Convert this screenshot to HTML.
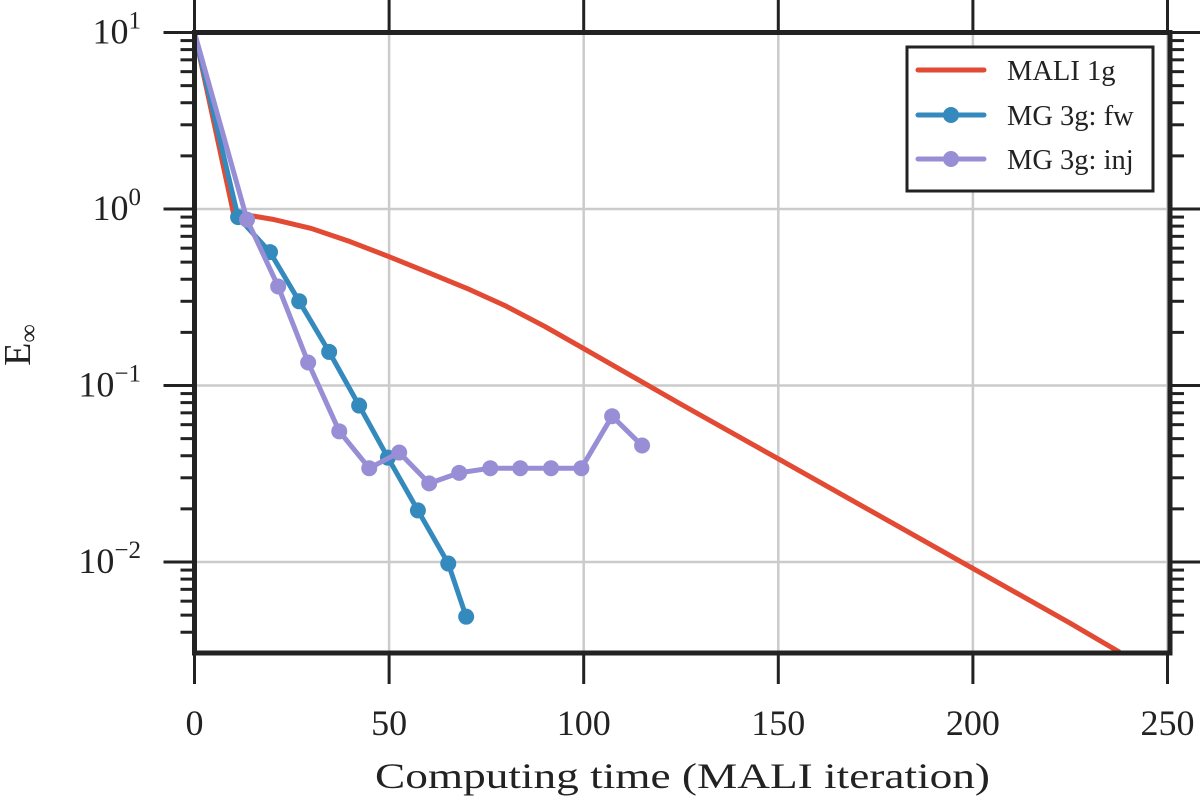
<!DOCTYPE html>
<html><head><meta charset="utf-8"><style>
html,body{margin:0;padding:0;background:#fff;}
svg{display:block;font-family:"Liberation Serif",serif;}
</style></head><body>
<svg id="chart" width="1200" height="812" viewBox="0 0 1200 812">
<g id="grid"></g>
<g id="series"></g>
<g id="axes"></g>
<g id="legend">
 <rect x="907" y="47" width="246" height="144" fill="#fff" stroke="#222" stroke-width="3"/>
 <g>
  <line x1="918" y1="70" x2="984" y2="70" stroke="#E24A33" stroke-width="5" stroke-linecap="round"/>
  <text x="1007" y="80" font-size="28.5" fill="#222">MALI 1g</text>
 </g>
 <g>
  <line x1="918" y1="115" x2="984" y2="115" stroke="#348ABD" stroke-width="5" stroke-linecap="round"/>
  <circle cx="951" cy="115" r="8" fill="#348ABD"/>
  <text x="1007" y="125" font-size="28.5" fill="#222">MG 3g: fw</text>
 </g>
 <g>
  <line x1="918" y1="159" x2="984" y2="159" stroke="#988ED5" stroke-width="5" stroke-linecap="round"/>
  <circle cx="951" cy="159" r="8" fill="#988ED5"/>
  <text x="1007" y="169" font-size="28.5" fill="#222">MG 3g: inj</text>
 </g>
</g>
</svg>
<script>
const maliX=[0,10,14,20,30,40,50,60,70,80,90,100,125,150,175,200,225,237.5];
const maliY=[10,0.95,0.92,0.875,0.776,0.653,0.537,0.437,0.355,0.282,0.216,0.162,0.0783,0.0384,0.0188,0.0092,0.0045,0.0031];
const fwX=[0,11.2,19.4,26.9,34.6,42.3,49.7,57.4,65.2,69.8];
const fwY=[10,0.90,0.57,0.30,0.155,0.077,0.039,0.0196,0.0098,0.0049];
const injX=[0,13.5,21.5,29.2,37.2,44.9,52.6,60.3,68.0,76,83.7,91.6,99.4,107.3,115];
const injY=[10,0.87,0.364,0.135,0.055,0.034,0.0417,0.0279,0.032,0.034,0.034,0.034,0.034,0.067,0.0457];
const xTicks=[0,50,100,150,200,250];
const yTicks=[1,0,-1,-2];

const X0=194.5,X1=1167.5,XMAX=250;
const YTOP=32.5,YBOT=653,DEC=176.5,YTOPEXP=1;
const sx=v=>X0+(X1-X0)*v/XMAX;
const sy=v=>YTOP+(YTOPEXP-Math.log10(v))*DEC;
const NS='http://www.w3.org/2000/svg';
function mk(tag,attrs,parent){const e=document.createElementNS(NS,tag);for(const k in attrs)e.setAttribute(k,attrs[k]);parent.appendChild(e);return e;}
const grid=document.getElementById('grid'),axes=document.getElementById('axes'),series=document.getElementById('series');
const R=1170;
xTicks.forEach(t=>{const l=mk('line',{x1:sx(t),x2:sx(t),y1:YTOP,y2:YBOT,stroke:'#cbcbcb','stroke-width':2.5},grid);

});
yTicks.forEach(t=>{const y=sy(Math.pow(10,t));const l=mk('line',{x1:X0,x2:R,y1:y,y2:y,stroke:'#cbcbcb','stroke-width':2.5},grid);

});
function drawLine(xs,ys,color,name,markers){
 const pts=xs.map((x,i)=>sx(x)+','+sy(ys[i])).join(' ');
 const p=mk('polyline',{points:pts,fill:'none',stroke:color,'stroke-width':5,'stroke-linejoin':'round','stroke-linecap':'round'},series);
 
 
 if(markers)xs.forEach((x,i)=>{if(i===0)return;const c=mk('circle',{cx:sx(x),cy:sy(ys[i]),r:8,fill:color},series);
 
 });
}
drawLine(maliX,maliY,'#E24A33','mali-1g',false);
drawLine(fwX,fwY,'#348ABD','mg-3g-fw',true);
drawLine(injX,injY,'#988ED5','mg-3g-inj',true);
const fr=mk('rect',{x:X0,y:YTOP,width:R-X0,height:YBOT-YTOP,fill:'none',stroke:'#222','stroke-width':5},axes);


xTicks.forEach(t=>{const x=sx(t);
 mk('line',{x1:x,x2:x,y1:YBOT,y2:YBOT+31,stroke:'#222','stroke-width':3},axes);
 mk('line',{x1:x,x2:x,y1:0,y2:YTOP,stroke:'#222','stroke-width':3},axes);
 const tx=mk('text',{x:x,y:735,'text-anchor':'middle','font-size':36,fill:'#222'},axes);tx.textContent=t;
 
 });
for(let e=1;e>=-3;e--){for(let m=1;m<10;m++){const v=m*Math.pow(10,e);const y=sy(v);if(y<YTOP-1||y>YBOT+1)continue;
 const len=m===1?31:14;
 mk('line',{x1:X0-len,x2:X0,y1:y,y2:y,stroke:'#222','stroke-width':3},axes);
 mk('line',{x1:R,x2:R+len,y1:y,y2:y,stroke:'#222','stroke-width':3},axes);}}
yTicks.forEach(t=>{const y=sy(Math.pow(10,t));
 const tx=mk('text',{x:141,y:y+11,'text-anchor':'end','font-size':36,fill:'#222'},axes);
 
 
 const a=document.createElementNS(NS,'tspan');a.textContent='10';tx.appendChild(a);
 const b=document.createElementNS(NS,'tspan');b.setAttribute('dy','-15');b.setAttribute('font-size','25');b.textContent=t<0?'\u2212'+(-t):t;tx.appendChild(b);});
const xt=mk('text',{x:375,y:788,'font-size':36,fill:'#222',textLength:615,lengthAdjust:'spacingAndGlyphs'},axes);xt.textContent='Computing time (MALI iteration)';


const yt=mk('text',{x:0,y:0,'text-anchor':'middle','font-size':38,fill:'#222',transform:'translate(30,345) rotate(-90)'},axes);


const e1=document.createElementNS(NS,'tspan');e1.textContent='E';yt.appendChild(e1);
const e2=document.createElementNS(NS,'tspan');e2.setAttribute('dy','7');e2.setAttribute('font-size','26');e2.textContent='\u221E';yt.appendChild(e2);
</script>
</body></html>
